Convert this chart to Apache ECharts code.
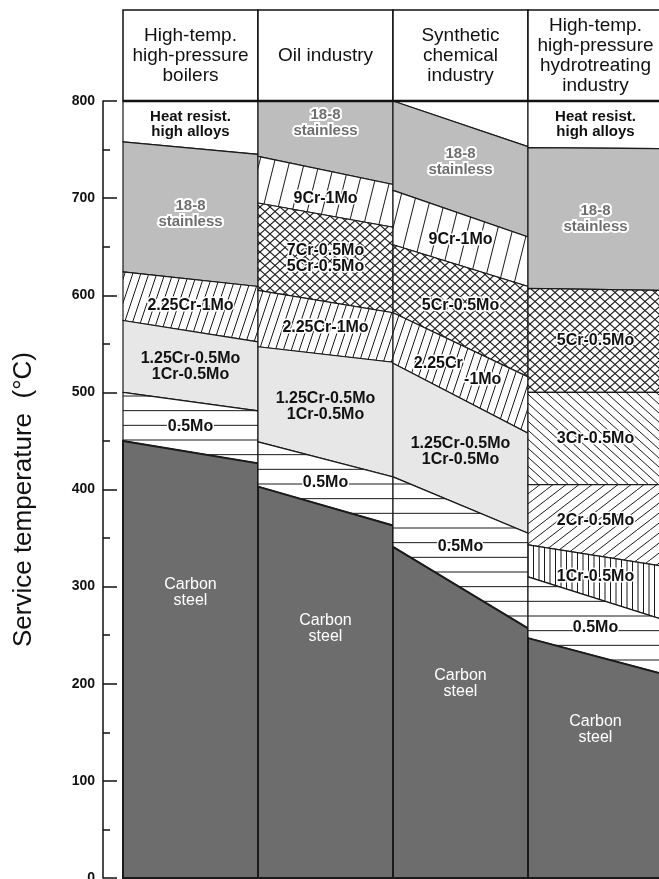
<!DOCTYPE html>
<html><head><meta charset="utf-8">
<script src="https://cdn.jsdelivr.net/npm/echarts@6/dist/echarts.min.js"></script>
<style>html,body{margin:0;padding:0;background:#fff}#c{width:659px;height:879px}</style>
</head><body><div id="c"></div>
<script>
const industries = ['High-temp.\nhigh-pressure\nboilers', 'Oil industry', 'Synthetic\nchemical\nindustry', 'High-temp.\nhigh-pressure\nhydrotreating\nindustry'];

// steels from top to bottom; band boundaries (°C) at the left and right edge of each column
const boilerSteels = ['Heat resist.', '18-8', '2.25Cr-1Mo', '1.25Cr-0.5Mo', '0.5Mo', 'Carbon steel'];
const boilerLeft  = [800, 758, 624, 574, 500, 450, 0];
const boilerRight = [800, 745, 609, 552, 481, 427, 0];

const oilSteels = ['18-8', '9Cr-1Mo', '7Cr-0.5Mo', '2.25Cr-1Mo', '1.25Cr-0.5Mo', '0.5Mo', 'Carbon steel'];
const oilLeft  = [800, 743, 695, 605, 547, 449, 403, 0];
const oilRight = [800, 714, 670, 582, 531, 413, 363, 0];

const chemSteels = ['Heat resist.', '18-8', '9Cr-1Mo', '5Cr-0.5Mo', '2.25Cr-1Mo', '1.25Cr-0.5Mo', '0.5Mo', 'Carbon steel'];
const chemLeft  = [800, 800, 708, 652, 582, 530, 413, 341, 0];
const chemRight = [800, 753, 660, 609, 516, 458, 355, 257, 0];

const hydroSteels = ['Heat resist.', '18-8', '5Cr-0.5Mo', '3Cr-0.5Mo', '2Cr-0.5Mo', '1Cr-0.5Mo', '0.5Mo', 'Carbon steel'];
const hydroLeft  = [800, 752, 607, 500, 405, 343, 310, 247, 0];
const hydroRight = [800, 751, 605, 500, 405, 321, 266, 210, 0];

const FONT = '"Liberation Sans", Arial, Helvetica, sans-serif';

function tile(w, h, lines, bg, lw) {
  const cv = document.createElement('canvas'); cv.width = w; cv.height = h;
  const g = cv.getContext('2d'); g.fillStyle = bg || '#fff'; g.fillRect(0, 0, w, h);
  g.strokeStyle = '#1a1a1a'; g.lineWidth = lw || 1;
  lines.forEach(([x1, y1, x2, y2]) => { g.beginPath(); g.moveTo(x1, y1); g.lineTo(x2, y2); g.stroke(); });
  return { image: cv, repeat: 'repeat' };
}
function slashLines(w, h) { return [-1, 0, 1].map(k => [k * w, h, k * w + w, 0]); }
function backLines(w, h) { return [-1, 0, 1].map(k => [k * w, 0, k * w + w, h]); }
const P = {
  steep: tile(15, 60, slashLines(15, 60)),
  slash: tile(8, 24, slashLines(8, 24)),
  cross: tile(10, 9, slashLines(10, 9).concat(backLines(10, 9)), '#fff', 1.1),
  back: tile(10, 9, backLines(10, 9)),
  fwd: tile(13, 10, slashLines(13, 10)),
  vert: tile(11, 4, [[0, 0, 0, 4], [5.5, 0, 5.5, 4], [11, 0, 11, 4]]),
  horiz: tile(4, 44, [[0, 0, 4, 0], [0, 14.67, 4, 14.67], [0, 29.33, 4, 29.33], [0, 44, 4, 44]])
};

const steelStyle = {
  'Heat resist.': { fill: '#fff', label: 'Heat resist.\nhigh alloys', text: 'heat' },
  '18-8': { fill: '#bdbdbd', label: '18-8\nstainless', text: 'outlineGray' },
  '9Cr-1Mo': { fill: P.steep, label: '9Cr-1Mo', text: 'outline' },
  '7Cr-0.5Mo': { fill: P.cross, label: '7Cr-0.5Mo\n5Cr-0.5Mo', text: 'outline' },
  '5Cr-0.5Mo': { fill: P.cross, label: '5Cr-0.5Mo', text: 'outline' },
  '2.25Cr-1Mo': { fill: P.slash, label: '2.25Cr-1Mo', text: 'outline' },
  '1.25Cr-0.5Mo': { fill: '#e7e7e7', label: '1.25Cr-0.5Mo\n1Cr-0.5Mo', text: 'dark' },
  '3Cr-0.5Mo': { fill: P.back, label: '3Cr-0.5Mo', text: 'outline' },
  '2Cr-0.5Mo': { fill: P.fwd, label: '2Cr-0.5Mo', text: 'outline' },
  '1Cr-0.5Mo': { fill: P.vert, label: '1Cr-0.5Mo', text: 'outline' },
  '0.5Mo': { fill: P.horiz, label: '0.5Mo', text: 'outline' },
  'Carbon steel': { fill: '#6d6d6d', label: 'Carbon\nsteel', text: 'light', frac: 0.33, edge: 2 }
};
const overrides = {
  '2:Heat resist.': { label: '' },
  '2:2.25Cr-1Mo': { label: '2.25Cr          \n          -1Mo' },
  '1:18-8': { frac: 0.32 },
  '2:18-8': { frac: 0.42 },
  '1:9Cr-1Mo': { frac: 0.62 }
};
const textStyles = {
  heat: { fill: '#111', font: 'bold 15px ' + FONT, lineHeight: 15 },
  dark: { fill: '#111', font: 'bold 16px ' + FONT, lineHeight: 16 },
  outline: { fill: '#111', font: 'bold 16px ' + FONT, lineHeight: 16, stroke: '#fff', lineWidth: 3 },
  outlineGray: { fill: '#6e6e6e', font: 'bold 15px ' + FONT, lineHeight: 16, stroke: '#fff', lineWidth: 4 },
  light: { fill: '#fff', font: '16px ' + FONT, lineHeight: 16 }
};

const columnsData = [[boilerSteels, boilerLeft, boilerRight], [oilSteels, oilLeft, oilRight], [chemSteels, chemLeft, chemRight], [hydroSteels, hydroLeft, hydroRight]];
const bands = [], bandMeta = [];
columnsData.forEach(([steels, L, R], c) => steels.forEach((s, i) => {
  bands.push([c, L[i + 1], R[i + 1], L[i], R[i]]);
  bandMeta.push({ col: c, steel: s });
}));

function renderBand(params, api) {
  const c = api.value(0), lowL = api.value(1), lowR = api.value(2), hiL = api.value(3), hiR = api.value(4);
  const meta = bandMeta[params.dataIndex];
  const st = steelStyle[meta.steel];
  const ov = overrides[meta.col + ':' + meta.steel] || {};
  const p1 = api.coord([c, hiL]), p2 = api.coord([c + 1, hiR]), p3 = api.coord([c + 1, lowR]), p4 = api.coord([c, lowL]);
  const children = [{ type: 'polygon', shape: { points: [p1, p2, p3, p4] }, style: { fill: st.fill, stroke: '#1a1a1a', lineWidth: st.edge || 1.2 } }];
  const text = ov.label !== undefined ? ov.label : st.label;
  if (text) {
    const frac = ov.frac !== undefined ? ov.frac : (st.frac !== undefined ? st.frac : 0.5);
    const top = (hiL + hiR) / 2, bot = (lowL + lowR) / 2;
    const pt = api.coord([c + 0.5, top - frac * (top - bot)]);
    children.push({ type: 'text', z2: 10, style: Object.assign({ text: text, x: pt[0], y: pt[1], align: 'center', verticalAlign: 'middle' }, textStyles[st.text]) });
  }
  return { type: 'group', children: children };
}

function renderHeader(params, api) {
  const c = api.value(0);
  const a = api.coord([c, 800]), b = api.coord([c + 1, 800]);
  const top = a[1] - 91;
  return { type: 'group', children: [
    { type: 'rect', shape: { x: a[0], y: top, width: b[0] - a[0], height: a[1] - top }, style: { fill: '#fff', stroke: '#111', lineWidth: 1.5 } },
    { type: 'line', shape: { x1: a[0], y1: a[1], x2: b[0], y2: a[1] }, style: { stroke: '#111', lineWidth: 2.5 } },
    { type: 'text', style: { text: industries[c], x: (a[0] + b[0]) / 2, y: (top + a[1]) / 2, align: 'center', verticalAlign: 'middle', font: '19px ' + FONT, lineHeight: 20, fill: '#111' } }
  ] };
}

const chart = echarts.init(document.getElementById('c'), null, { renderer: 'canvas' });
chart.setOption({
  animation: false,
  backgroundColor: '#fff',
  grid: { left: 123, right: -4, top: 101, bottom: 1, containLabel: false, outerBoundsMode: 'none' },
  xAxis: { type: 'value', min: 0, max: 4, show: false },
  yAxis: {
    type: 'value', min: 0, max: 800, interval: 100, offset: 20, position: 'left',
    name: 'Service temperature  (°C)', nameLocation: 'middle', nameRotate: 90, nameGap: 66,
    nameTextStyle: { fontSize: 26, fontFamily: FONT, color: '#111', padding: [0, 20, 0, 0] },
    axisLine: { show: true, onZero: false, lineStyle: { color: '#111', width: 1.5 } },
    axisTick: { show: true, inside: true, length: 14, lineStyle: { color: '#111', width: 1.5 } },
    minorTick: { show: true, splitNumber: 2, length: 7, lineStyle: { color: '#111', width: 1.5 } },
    splitLine: { show: false },
    axisLabel: { fontSize: 14, fontWeight: 'bold', color: '#111', margin: 8, fontFamily: FONT }
  },
  series: [
    { type: 'custom', renderItem: renderBand, data: bands, encode: { x: 0, y: [1, 2, 3, 4] }, clip: false, silent: true },
    { type: 'custom', renderItem: renderHeader, data: industries.map((_, i) => [i, 800]), encode: { x: 0, y: 1 }, clip: false, silent: true }
  ]
});
</script></body></html>
